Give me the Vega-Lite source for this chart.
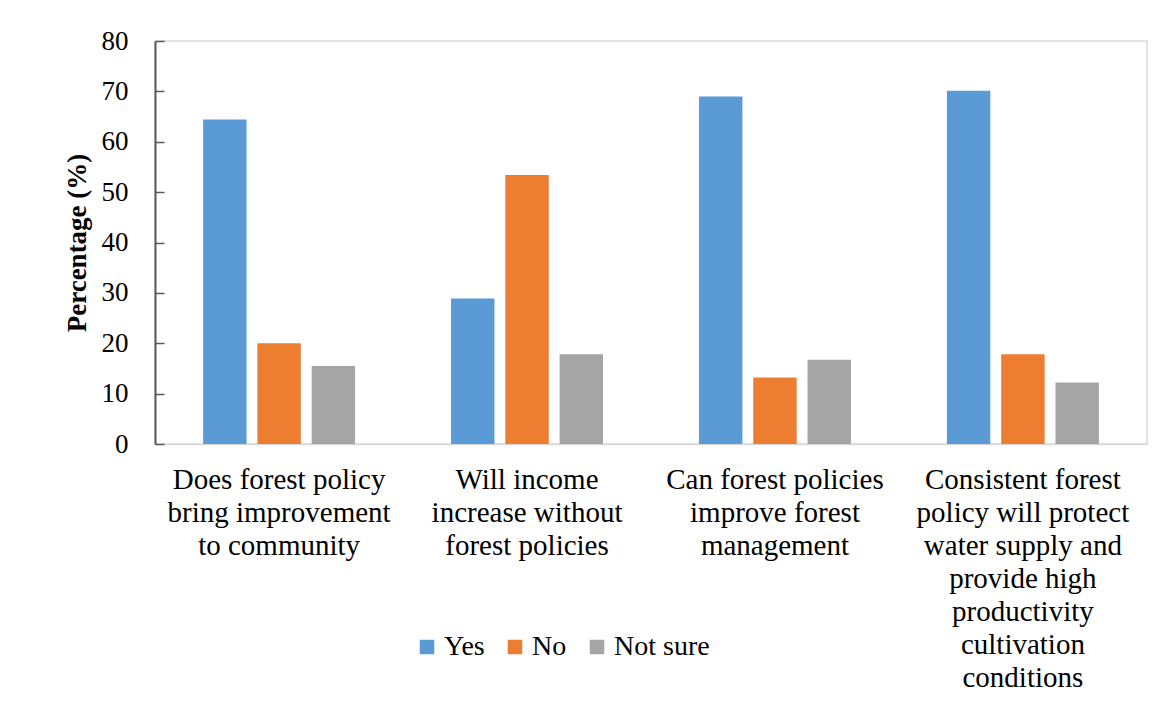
{
  "$schema": "https://vega.github.io/schema/vega-lite/v6.json",
  "autosize": "none",
  "width": 992,
  "height": 403,
  "padding": {"left": 155, "top": 41, "right": 22, "bottom": 267},
  "background": "white",
  "config": {
    "font": "Times New Roman, Liberation Serif, serif",
    "view": {"stroke": "#d9d9d9", "strokeWidth": 1.5}
  },
  "data": {
    "values": [
      {"question": "Does forest policy|bring improvement|to community", "response": "Yes", "value": 64.4},
      {"question": "Does forest policy|bring improvement|to community", "response": "No", "value": 20.0},
      {"question": "Does forest policy|bring improvement|to community", "response": "Not sure", "value": 15.5},
      {"question": "Will income|increase without|forest policies", "response": "Yes", "value": 28.9},
      {"question": "Will income|increase without|forest policies", "response": "No", "value": 53.4},
      {"question": "Will income|increase without|forest policies", "response": "Not sure", "value": 17.8},
      {"question": "Can forest policies|improve forest|management", "response": "Yes", "value": 69.0},
      {"question": "Can forest policies|improve forest|management", "response": "No", "value": 13.2},
      {"question": "Can forest policies|improve forest|management", "response": "Not sure", "value": 16.7},
      {"question": "Consistent forest|policy will protect|water supply and|provide high|productivity|cultivation|conditions", "response": "Yes", "value": 70.1},
      {"question": "Consistent forest|policy will protect|water supply and|provide high|productivity|cultivation|conditions", "response": "No", "value": 17.8},
      {"question": "Consistent forest|policy will protect|water supply and|provide high|productivity|cultivation|conditions", "response": "Not sure", "value": 12.2}
    ]
  },
  "mark": {"type": "bar"},
  "encoding": {
    "x": {
      "field": "question",
      "type": "nominal",
      "sort": null,
      "scale": {"paddingInner": 0.387, "paddingOuter": 0.194},
      "axis": {
        "title": null,
        "labelAngle": 0,
        "labelExpr": "split(datum.label, '|')",
        "labelFont": "Times New Roman, Liberation Serif, serif",
        "labelFontSize": 29,
        "labelLineHeight": 33,
        "labelColor": "#000000",
        "labelPadding": 21,
        "labelLimit": 0,
        "ticks": false,
        "domainColor": "#d9d9d9",
        "domainWidth": 1.5
      }
    },
    "xOffset": {
      "field": "response",
      "type": "nominal",
      "sort": ["Yes", "No", "Not sure"],
      "scale": {"paddingInner": 0.2, "paddingOuter": 0}
    },
    "y": {
      "field": "value",
      "type": "quantitative",
      "scale": {"domain": [0, 80], "nice": false},
      "axis": {
        "title": "Percentage (%)",
        "titleFont": "Times New Roman, Liberation Serif, serif",
        "titleFontSize": 27,
        "titleFontWeight": "bold",
        "titleColor": "#000000",
        "titlePadding": 10,
        "values": [0, 10, 20, 30, 40, 50, 60, 70, 80],
        "grid": false,
        "labelFont": "Times New Roman, Liberation Serif, serif",
        "labelFontSize": 27,
        "labelColor": "#000000",
        "labelPadding": 36,
        "tickSize": -9,
        "tickColor": "#595959",
        "tickWidth": 1.5,
        "domainColor": "#595959",
        "domainWidth": 2
      }
    },
    "color": {
      "field": "response",
      "type": "nominal",
      "sort": ["Yes", "No", "Not sure"],
      "scale": {"domain": ["Yes", "No", "Not sure"], "range": ["#5B9BD5", "#ED7D31", "#A5A5A5"]},
      "legend": {
        "title": null,
        "orient": "none",
        "direction": "horizontal",
        "legendX": 258,
        "legendY": 592,
        "symbolType": "square",
        "symbolSize": 210,
        "symbolStrokeWidth": 0,
        "labelFont": "Times New Roman, Liberation Serif, serif",
        "labelFontSize": 28,
        "labelColor": "#000000",
        "labelOffset": 3,
        "columnPadding": 16
      }
    }
  }
}
